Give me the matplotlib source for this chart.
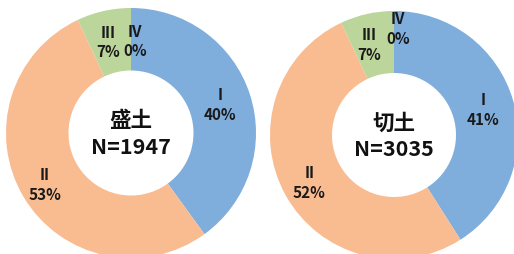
import matplotlib
matplotlib.use("Agg")
import matplotlib.pyplot as plt
import numpy as np

plt.rcParams["font.family"] = ["Noto Sans CJK JP", "DejaVu Sans"]

CATEGORIES = ["I", "II", "III", "IV"]
MORIDO = [40, 53, 7, 0]      # 盛土
KIRIDO = [41, 52, 7, 0]      # 切土
TITLES = ["盛土\nN=1947", "切土\nN=3035"]
COLORS = ["#7FAEDD", "#F9BC91", "#BBD59B", "#A5A5A5"]

W, H = 514, 255
fig = plt.figure(figsize=(W / 100, H / 100), dpi=100)

# (center x, center y, radius) in pixels, y from top
placement = [(131, 134, 125), (394, 136, 124)]
# label radius / small nudges per wedge (III, IV squeeze together at the top)
label_r = [[0.75, 0.80, 0.75, 0.74], [0.75, 0.78, 0.75, 0.86]]
label_dx = [[0, 0, -0.02, 0.03], [0, 0, -0.04, 0.03]]

for vals, title, (cx, cy, r), lr, ldx in zip([MORIDO, KIRIDO], TITLES, placement, label_r, label_dx):
    ax = fig.add_axes([(cx - r) / W, 1 - (cy + r) / H, 2 * r / W, 2 * r / H])
    wedges, _ = ax.pie(vals, colors=COLORS, startangle=90, counterclock=False,
                       wedgeprops=dict(width=0.5, linewidth=0))
    total = sum(vals)
    ang = 90.0
    for i, v in enumerate(vals):
        span = 360.0 * v / total
        mid = np.deg2rad(ang - span / 2)
        ang -= span
        x = lr[i] * np.cos(mid) + ldx[i]
        y = lr[i] * np.sin(mid)
        ax.text(x, y, f"{CATEGORIES[i]}\n{v}%", ha="center", va="center",
                fontsize=11, fontweight="bold", color="#1a1a1a", linespacing=1.3)
    ax.text(0, 0, title, ha="center", va="center", fontsize=15.5,
            fontweight="bold", color="#111111", linespacing=1.3)
    ax.set_xlim(-1, 1)
    ax.set_ylim(-1, 1)
    ax.set_aspect("equal")
    ax.axis("off")

fig.savefig("out.png", dpi=100)
